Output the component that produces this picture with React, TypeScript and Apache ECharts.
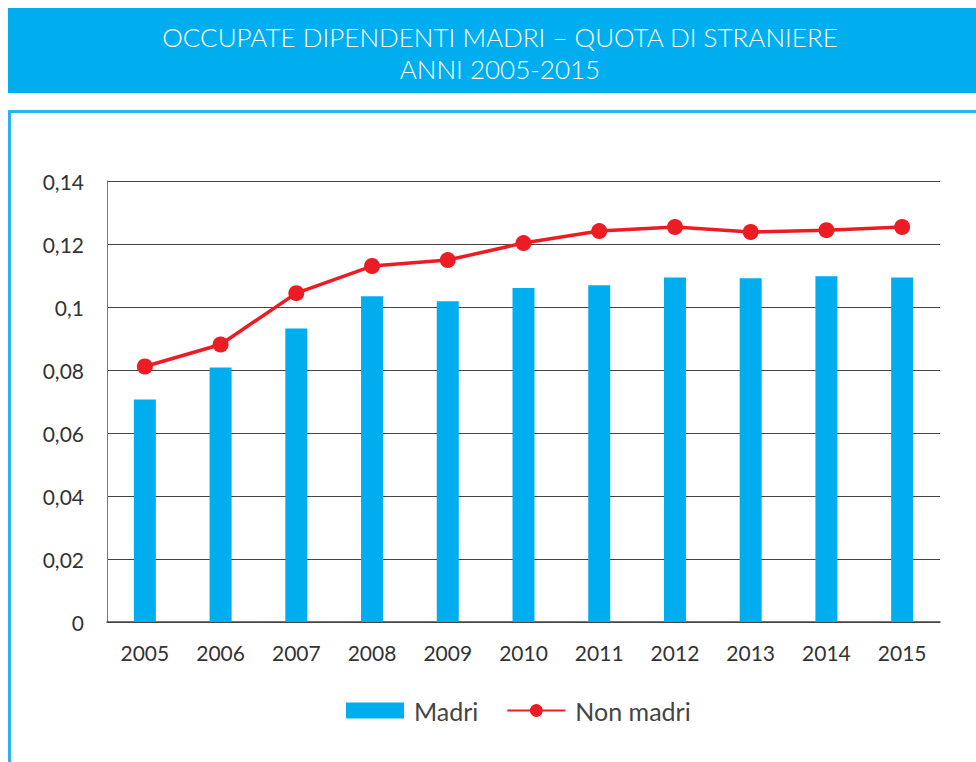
import React, { useEffect, useRef } from "react";
import * as echarts from "echarts";

const years = ["2005", "2006", "2007", "2008", "2009", "2010", "2011", "2012", "2013", "2014", "2015"];
const madri = [0.0706, 0.0808, 0.0932, 0.1034, 0.1018, 0.106, 0.1069, 0.1094, 0.1091, 0.1098, 0.1094];
const nonMadri = [0.0811, 0.0881, 0.1044, 0.113, 0.1149, 0.1203, 0.1241, 0.1254, 0.1238, 0.1244, 0.1254];
const titleLines = ["OCCUPATE DIPENDENTI MADRI – QUOTA DI STRANIERE", "ANNI 2005-2015"];

const FONT = "Lato, 'Open Sans', sans-serif";

export default function App() {
  const ref = useRef<HTMLDivElement>(null);
  useEffect(() => {
    const chart = echarts.init(ref.current!, null, { renderer: "svg" });
    chart.setOption({
      animation: false,
      backgroundColor: "#fff",
      textStyle: { fontFamily: FONT },
      graphic: [
        { type: "rect", shape: { x: 8, y: 8, width: 968, height: 85 }, style: { fill: "#00AEEF" } },
        {
          type: "text",
          x: 500,
          y: 21,
          style: {
            text: titleLines.join("\n"),
            fill: "#fff",
            font: `300 26px ${FONT}`,
            align: "center",
            lineHeight: 32,
          },
        },
        { type: "line", shape: { x1: 9.5, y1: 111.5, x2: 976, y2: 111.5 }, style: { stroke: "#29B5EE", lineWidth: 3 } },
        { type: "line", shape: { x1: 9.5, y1: 110, x2: 9.5, y2: 762 }, style: { stroke: "#29B5EE", lineWidth: 3 } },
      ],
      grid: { left: 107, right: 36, top: 181, bottom: 140 },
      legend: {
        bottom: 34,
        left: 341,
        itemWidth: 58,
        itemHeight: 16,
        itemGap: 28,
        textStyle: { fontSize: 25, color: "#444", fontFamily: FONT, padding: [0, 0, 0, 5] },
        data: [
          { name: "Madri", icon: "rect" },
          { name: "Non madri" },
        ],
      },
      xAxis: {
        type: "category",
        data: years,
        axisTick: { show: false },
        axisLine: { lineStyle: { color: "#444", width: 1.5 } },
        axisLabel: { fontSize: 21, color: "#333", margin: 20, fontFamily: FONT },
      },
      yAxis: {
        type: "value",
        min: 0,
        max: 0.14,
        interval: 0.02,
        axisLine: { show: true, lineStyle: { color: "#777" } },
        axisTick: { show: false },
        splitLine: { lineStyle: { color: "#444", width: 1 } },
        axisLabel: {
          fontSize: 21,
          color: "#333",
          margin: 23,
          fontFamily: FONT,
          formatter: (v: number) => String(Math.round(v * 100) / 100).replace(".", ","),
        },
      },
      series: [
        {
          name: "Madri",
          type: "bar",
          data: madri,
          barWidth: 22,
          itemStyle: { color: "#00AEEF" },
        },
        {
          name: "Non madri",
          type: "line",
          data: nonMadri,
          symbol: "circle",
          symbolSize: 16,
          lineStyle: { color: "#ED1C24", width: 3.5 },
          itemStyle: { color: "#ED1C24" },
        },
      ],
    });
    return () => chart.dispose();
  }, []);
  return <div ref={ref} style={{ position: "absolute", left: 0, top: 0, width: 976, height: 762 }} />;
}
